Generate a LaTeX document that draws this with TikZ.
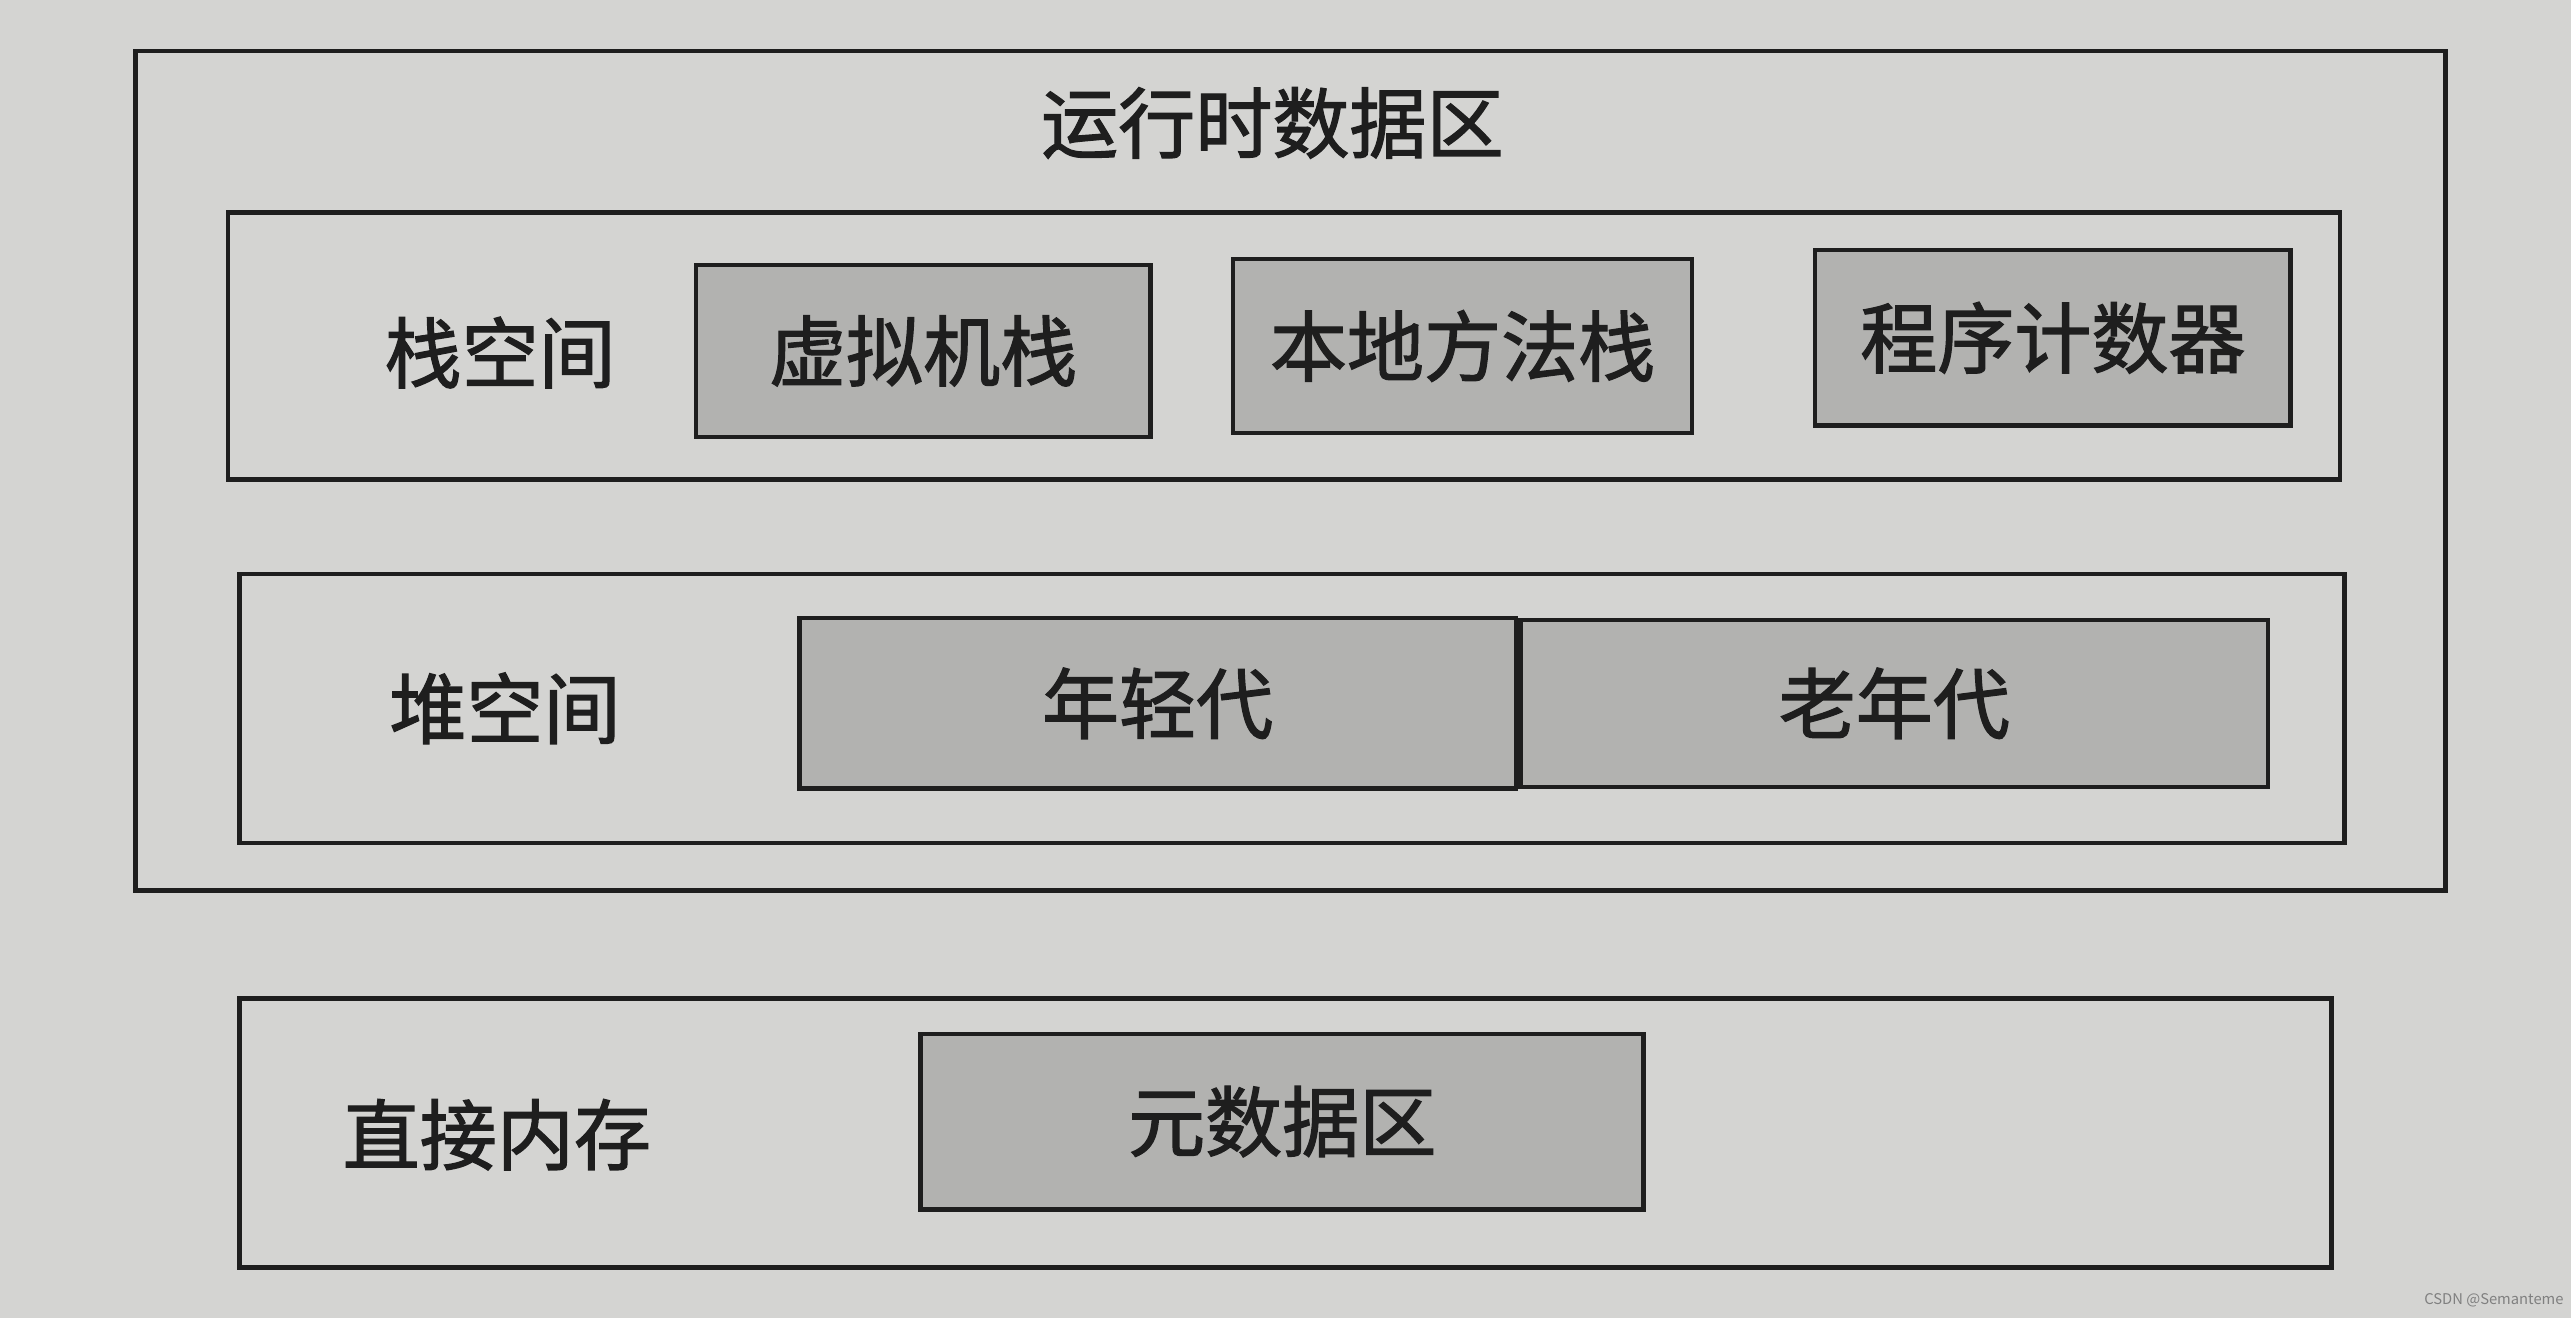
\documentclass[tikz,border=0pt]{standalone}
\usepackage{fontspec}
\setmainfont{Noto Sans CJK SC}
\newfontfamily\cjkmed[FakeBold=1.6]{Noto Sans CJK SC}
\usepackage{tikz}
\definecolor{PaperGray}{RGB}{212,212,210}
\definecolor{AreaGray}{RGB}{178,178,176}
\definecolor{InkBlack}{RGB}{30,30,30}

\begin{document}
\begin{tikzpicture}[x=1pt,y=-1pt,
  area/.style 2 args={draw=InkBlack,line width=2.8pt,rectangle,minimum width=#1pt,minimum height=#2pt,inner sep=0pt},
  blk/.style 2 args={area={#1}{#2},fill=AreaGray,font=\fontsize{47}{56}\cjkmed,text=InkBlack},
  lbl/.style={font=\fontsize{47}{56}\cjkmed,text=InkBlack}]
\fill[PaperGray] (0,0) rectangle (1568,804);
\useasboundingbox (0,0) rectangle (1568,804);
% runtime data area
\node[area={1409}{512}](rt) at(787,287) {};
\node[lbl](rtTitle) at(776,75) {运行时数据区};
% stack space
\node[area={1288}{163}](stk) at(783,211) {};
\node[lbl](stkName) at(305,215) {栈空间};
\node[blk={277}{105}](vms) at(563,214) {虚拟机栈};
\node[blk={280}{106}](nms) at(892,211) {本地方法栈};
\node[blk={290}{107}](pc) at(1252,206) {程序计数器};
% heap space
\node[area={1284}{164}](hp) at(788,432) {};
\node[lbl](hpName) at(308,432) {堆空间};
\node[blk={437}{104}](young) at(706,429) {年轻代};
\node[blk={456}{102},anchor=west](old) at(young.east) {老年代};
% direct memory
\node[area={1276}{164}](dm) at(784,691) {};
\node[lbl](dmName) at(303,692) {直接内存};
\node[blk={441}{107}](meta) at(782,684) {元数据区};
\node[font=\fontsize{9}{11}\selectfont,text=gray](mark) at(1521,793) {CSDN @Semanteme};
\end{tikzpicture}
\end{document}
